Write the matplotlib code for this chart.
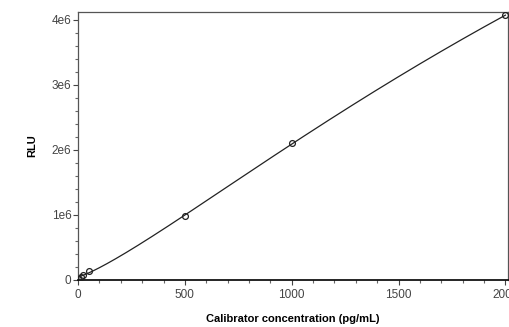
import matplotlib
matplotlib.use('Agg')
import matplotlib.pyplot as plt
import numpy as np
from matplotlib.ticker import MultipleLocator

plt.rcParams['font.family'] = ['Liberation Sans', 'DejaVu Sans']

# calibrator points
conc = [0, 12.5, 25, 50, 500, 1000, 2000]
rlu = [0.02e6, 0.05e6, 0.08e6, 0.14e6, 0.985e6, 2.1e6, 4.07e6]

x_ticks = [0, 500, 1000, 1500, 2000]
y_ticks = [0, 1e6, 2e6, 3e6, 4e6]
y_tick_labels = ['0', '1e6', '2e6', '3e6', '4e6']


def fit_4pl(x, y):
    # grid over slope b and midpoint c, a/d solved by least squares
    x = np.asarray(x, float)
    y = np.asarray(y, float)
    best = None
    for b in np.linspace(0.8, 3.0, 111):
        for c in np.logspace(2.5, 5, 200):
            g = 1.0 / (1.0 + (x / c) ** b)
            A = np.column_stack([g, 1 - g])
            p, *_ = np.linalg.lstsq(A, y, rcond=None)
            err = np.sum((A @ p - y) ** 2)
            if best is None or err < best[0]:
                best = (err, b, c, p[0], p[1])
    return best[1:]


b, c, a, d = fit_4pl(conc, rlu)
xs = np.linspace(0, 2000, 400)
ys = d + (a - d) / (1.0 + (xs / c) ** b)

fig = plt.figure(figsize=(5.1, 3.27), dpi=100)
ax = fig.add_axes([0.153, 0.144, 0.843, 0.819])

ax.plot(xs, ys, color='#222222', lw=0.9)
ax.plot(conc, rlu, 'o', mfc='none', mec='#222222', ms=4.2, mew=0.9, zorder=3)

ax.set_xlim(0, 2012)
ax.set_ylim(0, 4.12e6)
ax.set_xticks(x_ticks)
ax.set_yticks(y_ticks)
ax.set_yticklabels(y_tick_labels)
ax.xaxis.set_minor_locator(MultipleLocator(100))
ax.yaxis.set_minor_locator(MultipleLocator(0.2e6))

for s in ['top', 'right', 'left']:
    ax.spines[s].set_color('#555555')
    ax.spines[s].set_linewidth(0.9)
ax.spines['bottom'].set_color('black')
ax.spines['bottom'].set_linewidth(1.2)

ax.tick_params(which='major', length=3.8, width=0.8, color='#444444',
               labelsize=8.5, labelcolor='#444444')
ax.tick_params(axis='x', which='major', pad=3)
ax.tick_params(axis='y', which='major', pad=1)
ax.tick_params(which='minor', length=2.5, width=0.8, color='#666666')

ax.set_xlabel('Calibrator concentration (pg/mL)', fontsize=8,
              fontweight='bold', labelpad=9)
ax.set_ylabel('RLU', fontsize=8, fontweight='bold', labelpad=10)

fig.savefig('out.png', dpi=100)
